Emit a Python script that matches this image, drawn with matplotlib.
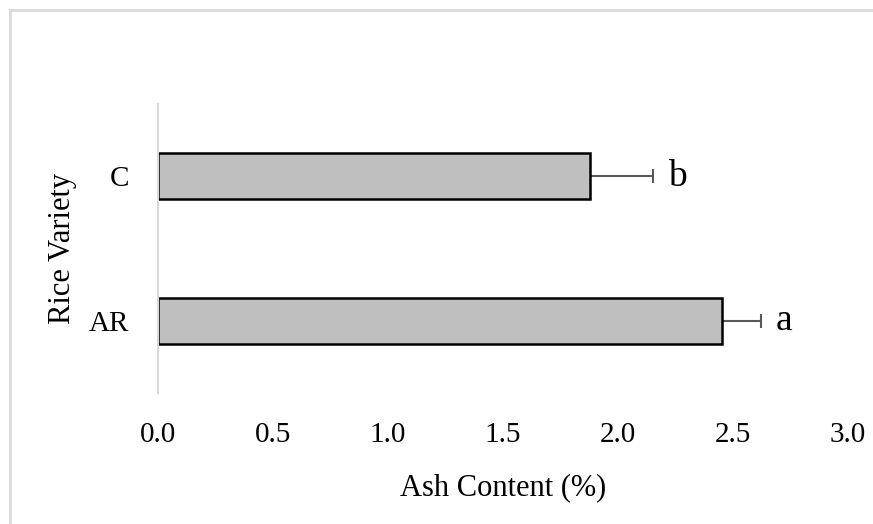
import matplotlib
matplotlib.use("Agg")
import matplotlib.pyplot as plt
from matplotlib.lines import Line2D

varieties = ["AR", "C"]
ash = [2.45, 1.88]
ash_err = [0.17, 0.27]
letters = ["a", "b"]
xticks = [0.0, 0.5, 1.0, 1.5, 2.0, 2.5, 3.0]

plt.rcParams['font.family'] = ['Liberation Serif', 'DejaVu Serif']

fig = plt.figure(figsize=(8.73, 5.24), dpi=100)
ax = fig.add_axes([158 / 873, 1 - 393 / 524, 690 / 873, 289 / 524])

pos = list(range(len(varieties)))
ax.barh(pos, ash, height=0.32, color="#BFBFBF", edgecolor="black", linewidth=1.8, zorder=2)
# only the upper error is shown
ax.errorbar(ash, pos, xerr=[[0] * len(ash), ash_err], fmt="none", ecolor="#595959",
            elinewidth=1.5, capsize=5, capthick=1.5, zorder=1)

for p, v, e, t in zip(pos, ash, ash_err, letters):
    ax.annotate(t, xy=(v + e, p), xytext=(11, 0), textcoords="offset points",
                ha="left", va="center", fontsize=27)

ax.set_xlim(0, 3.0)
ax.set_ylim(-0.5, 1.5)
ax.set_xticks(xticks)
ax.set_xticklabels([f"{x:.1f}" for x in xticks], fontsize=21)
ax.set_yticks(pos)
ax.set_yticklabels(varieties, fontsize=21)
ax.tick_params(axis="both", length=0)
ax.tick_params(axis="x", pad=21)
ax.tick_params(axis="y", pad=21)

for s in ["top", "right", "bottom"]:
    ax.spines[s].set_visible(False)
ax.spines["left"].set_color("#D9D9D9")
ax.spines["left"].set_linewidth(1.5)

ax.set_xlabel("Ash Content (%)", fontsize=22, labelpad=18)
ax.set_ylabel("Rice Variety", fontsize=22, labelpad=8)

# light gray frame on the top and left edges
fig.add_artist(Line2D([10 / 873, 1], [1 - 10 / 524, 1 - 10 / 524], color="#D9D9D9", lw=2,
                      transform=fig.transFigure))
fig.add_artist(Line2D([10 / 873, 10 / 873], [0, 1 - 10 / 524], color="#D9D9D9", lw=2,
                      transform=fig.transFigure))

fig.savefig("out.png", dpi=100)
